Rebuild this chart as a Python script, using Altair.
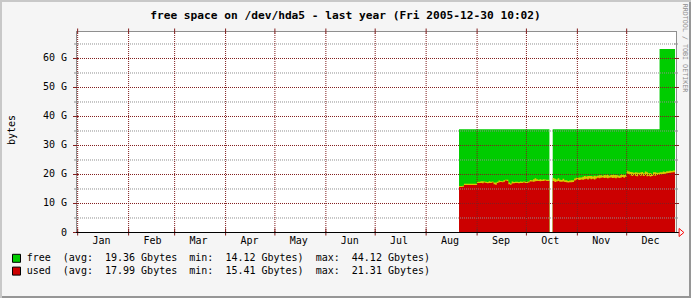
import altair as alt
import pandas as pd

FONT = "DejaVu Sans Mono"
TITLE = "free space on /dev/hda5 - last year (Fri 2005-12-30 10:02)"
Y_TITLE = "bytes"
WATERMARK = "RRDTOOL / TOBI OETIKER"

GREEN = "#00CC00"
RED = "#CC0000"
YELLOW = "#D4CC00"
MGRID = "#821E1E"
GRID = "#8F8F8F"

MONTH_NAMES = ["Jan", "Feb", "Mar", "Apr", "May", "Jun",
               "Jul", "Aug", "Sep", "Oct", "Nov", "Dec"]
MONTH_STARTS = [f"2005-{m:02d}-01T00:00:00Z" for m in range(1, 13)]
MONTH_MIDS = [f"2005-{m:02d}-15T12:00:00Z" for m in range(1, 13)]

Y_MAJOR = [0, 10, 20, 30, 40, 50, 60]
Y_LABELS = ["0", "10 G", "20 G", "30 G", "40 G", "50 G", "60 G"]
Y_MINOR = [5, 15, 25, 35, 45, 55, 65]
Y_TOP = 69.31

X_START = "2004-12-31T00:00:00Z"
X_END = "2005-12-31T00:00:00Z"
DATA_START = "2005-08-21"
DATA_END = "2005-12-30T10:02:00Z"

# daily 'used' (Gbytes), Aug 21 .. Dec 30 (None = no data)
used = [
    # Aug 21-31
    15.7, 15.7, 15.8, 16.4, 16.4, 16.4, 16.4, 16.4, 16.4, 16.4, 16.4,
    # Sep
    17.1, 17.1, 17.1, 17.0, 17.2, 17.1, 17.0, 17.1, 17.1, 17.2,
    16.6, 16.5, 17.1, 17.3, 17.4, 17.3, 17.5, 17.9, 17.8, 16.6,
    16.5, 16.9, 17.0, 17.1, 17.1, 17.0, 17.1, 17.1, 17.2, 17.1,
    # Oct
    17.1, 17.2, 17.6, 17.6, 17.5, 17.7, 17.8, 17.8, 17.7, 17.8,
    17.8, 17.9, 17.8, 17.8, None, None, 17.8, 17.4, 17.6, 17.8,
    17.5, 17.5, 17.6, 17.4, 17.3, 17.2, 17.3, 17.3, 17.4, 17.9, 18.2,
    # Nov
    18.2, 18.1, 18.3, 18.2, 18.4, 18.5, 18.3, 18.6, 18.4, 18.5,
    18.3, 18.6, 18.9, 18.7, 18.9, 19.0, 18.8, 18.9, 18.7, 18.9,
    19.0, 18.8, 18.9, 18.7, 19.0, 18.8, 18.9, 19.1, 18.9, 19.2,
    # Dec 1-30
    20.3, 20.1, 19.7, 19.5, 19.8, 19.6, 19.4, 19.9, 19.6, 19.7,
    19.5, 19.8, 19.4, 19.6, 19.3, 19.5, 19.7, 19.6, 19.8, 19.9,
    20.0, 20.1, 20.2, 20.3, 20.4, 20.5, 20.6, 20.7, 20.8, 20.8,
]

# daily peak above the average 'used' (Gbytes), same days
spike = [
    0.3, 0.3, 0.3, 0.4, 0.4, 0.4, 0.4, 0.4, 0.4, 0.4, 0.4,
    0.4, 0.4, 0.6, 0.7, 0.4, 0.4, 0.4, 0.6, 0.4, 0.4,
    0.6, 0.7, 0.4, 0.6, 0.4, 0.4, 0.5, 0.3, 0.4, 0.6,
    0.4, 0.7, 0.4, 0.4, 0.4, 0.4, 0.5, 0.4, 0.4, 0.4,
    0.4, 0.4, 0.5, 0.4, 0.9, 1.0, 0.6, 0.4, 0.7, 0.4,
    0.6, 0.4, 0.4, 0.4, None, None, 1.0, 1.1, 0.7, 0.9,
    0.7, 0.6, 0.9, 0.6, 0.7, 0.6, 0.6, 0.7, 0.6, 0.7, 0.7,
    0.7, 0.9, 0.7, 1.0, 1.1, 0.8, 1.2, 0.9, 1.1, 0.8,
    1.3, 0.8, 0.7, 1.0, 0.8, 0.6, 1.1, 0.8, 1.2, 0.7,
    0.8, 1.2, 0.9, 1.1, 0.7, 0.8, 1.2, 0.7, 1.1, 0.7,
    1.0, 0.9, 1.2, 1.3, 0.8, 1.2, 1.3, 0.7, 1.1, 1.2,
    0.9, 1.2, 1.4, 0.8, 1.2, 0.7, 1.1, 1.2, 0.8, 0.7,
    0.8, 0.7, 0.8, 0.6, 0.7, 0.6, 0.7, 0.5, 0.6, 0.6,
]

# total size (used + free), Gbytes: 35.6 until Dec 20, 63.3 from Dec 21
total = [35.6] * 122 + [63.3] * 10

legend_names = ["free", "used"]
legend_colors = [GREEN, RED]
legend_avg = [19.36, 17.99]
legend_min = [14.12, 15.41]
legend_max = [44.12, 21.31]


def ms(s):
    return int(pd.Timestamp(s).value // 10**6)


days = pd.date_range(start=DATA_START, periods=len(used), freq="D", tz="UTC")

rows = []
seg = 0
prev_ok = False
for i, d in enumerate(days):
    t = d.strftime("%Y-%m-%dT%H:%M:%SZ")
    if used[i] is None:
        if prev_ok:
            rows.append(dict(t=t, used=used[i - 1], peak=used[i - 1] + spike[i - 1],
                             total=total[i - 1], seg=seg))
            seg += 1
        prev_ok = False
        continue
    rows.append(dict(t=t, used=used[i], peak=used[i] + spike[i], total=total[i], seg=seg))
    prev_ok = True
rows.append(dict(t=DATA_END, used=used[-1], peak=used[-1] + spike[-1], total=total[-1], seg=seg))
area_df = pd.DataFrame(rows)

W, H = 600, 201
x_scale = alt.Scale(type="utc", domain=[ms(X_START), ms(X_END)])
y_scale = alt.Scale(domain=[0, Y_TOP], range=[H + 0.5, 0.5], nice=False, zero=True)

base = alt.Chart(area_df)
xa = alt.X("t:T", scale=x_scale, axis=None)

green = base.mark_area(interpolate="step-after", color=GREEN).encode(
    x=xa, y=alt.Y("total:Q", scale=y_scale, stack=None, axis=None), detail="seg:N")
yellow = base.mark_area(interpolate="step-after", color=YELLOW).encode(
    x=xa, y=alt.Y("peak:Q", scale=y_scale, stack=None, axis=None), detail="seg:N")
red = base.mark_area(interpolate="step-after", color=RED).encode(
    x=xa, y=alt.Y("used:Q", scale=y_scale, stack=None, axis=None), detail="seg:N")

minor_df = pd.DataFrame({"v": Y_MINOR})
major_df = pd.DataFrame({"v": Y_MAJOR[1:]})
tick_df = pd.DataFrame({"v": Y_MAJOR, "label": Y_LABELS})
month_df = pd.DataFrame({"start": MONTH_STARTS, "mid": MONTH_MIDS, "name": MONTH_NAMES})

yv = alt.Y("v:Q", scale=y_scale, axis=None)
xm = alt.X("start:T", scale=x_scale, axis=None)

minor_grid = alt.Chart(minor_df).mark_rule(color=GRID, strokeDash=[1, 1], strokeWidth=1).encode(
    y=yv, x=alt.value(0), x2=alt.value(W))
major_grid = alt.Chart(major_df).mark_rule(color=MGRID, strokeDash=[1, 1], strokeWidth=1).encode(
    y=yv, x=alt.value(0), x2=alt.value(W))
month_grid = alt.Chart(month_df).mark_rule(color=MGRID, strokeDash=[1, 1], strokeWidth=1).encode(
    x=xm, y=alt.value(0), y2=alt.value(H))

minor_tick_l = alt.Chart(minor_df).mark_rule(color=GRID).encode(
    y=yv, x=alt.value(-2), x2=alt.value(2))
minor_tick_r = alt.Chart(minor_df).mark_rule(color=GRID).encode(
    y=yv, x=alt.value(W - 2), x2=alt.value(W + 2))
major_tick_l = alt.Chart(tick_df).mark_rule(color=MGRID).encode(
    y=yv, x=alt.value(-3), x2=alt.value(2))
major_tick_r = alt.Chart(major_df).mark_rule(color=MGRID).encode(
    y=yv, x=alt.value(W - 2), x2=alt.value(W + 3))
month_tick = alt.Chart(month_df).mark_rule(color=MGRID).encode(
    x=xm, y=alt.value(H - 3.5), y2=alt.value(H + 3.5))
month_tick_top = alt.Chart(month_df).mark_rule(color=MGRID).encode(
    x=xm, y=alt.value(-2.5), y2=alt.value(2.5))

y_labels = alt.Chart(tick_df).mark_text(
    font=FONT, fontSize=10, color="#000000", align="right", baseline="middle").encode(
    y=yv, x=alt.value(-9), text="label:N")

one = pd.DataFrame({"k": [0]})
frame_top = alt.Chart(one).mark_rule(color=GRID).encode(
    x=alt.value(0), x2=alt.value(W + 0.5), y=alt.value(0.5))
frame_right = alt.Chart(one).mark_rule(color=GRID).encode(
    x=alt.value(W + 0.5), y=alt.value(0), y2=alt.value(H))
frame_left = alt.Chart(one).mark_rule(color=GRID).encode(
    x=alt.value(0.5), y=alt.value(0), y2=alt.value(H + 1))
x_axis_line = alt.Chart(one).mark_rule(color="#000000").encode(
    x=alt.value(0), x2=alt.value(W + 3), y=alt.value(H + 0.5))
arrow = alt.Chart(one).mark_point(
    shape="M-0.6,-1L0.6,0L-0.6,1Z", filled=False, color="#FF0000", size=64,
    strokeWidth=1, opacity=1).encode(x=alt.value(W + 5.5), y=alt.value(H + 0.5))

month_labels = alt.Chart(month_df).mark_text(
    font=FONT, fontSize=10, color="#000000", align="center", baseline="middle").encode(
    x=alt.X("mid:T", scale=x_scale, axis=None), y=alt.value(H + 8.5), text="name:N")

# decorations outside the plot
title_df = pd.DataFrame({"text": [TITLE]})
title = alt.Chart(title_df).mark_text(
    font=FONT, fontSize=11.2, fontWeight="bold", color="#000000",
    align="center", baseline="alphabetic").encode(
    x=alt.value(345.5 - 76), y=alt.value(18.5 - 31), text="text:N")

ytitle_df = pd.DataFrame({"text": [Y_TITLE]})
ytitle = alt.Chart(ytitle_df).mark_text(
    font=FONT, fontSize=10, color="#000000", align="center", baseline="middle", angle=270).encode(
    x=alt.value(12 - 76), y=alt.value(130 - 31), text="text:N")

wm_df = pd.DataFrame({"text": [WATERMARK]})
watermark = alt.Chart(wm_df).mark_text(
    font=FONT, fontSize=6.7, color="#8C8C8C", align="center", baseline="middle", angle=90).encode(
    x=alt.value(685 - 76), y=alt.value(48 - 31), text="text:N")

NB = "\u00a0"
legend_layers = []
for i, (nm, col, a, mn, mx) in enumerate(zip(legend_names, legend_colors,
                                              legend_avg, legend_min, legend_max)):
    s = f"{nm}  (avg:  {a:5.2f} Gbytes  min:  {mn:5.2f} Gbytes)  max:  {mx:5.2f} Gbytes)"
    s = s.replace(" ", NB)
    ldf = pd.DataFrame({"text": [s]})
    yc = 258.3 + i * 12.8 - 31
    box = alt.Chart(ldf).mark_rect(color=col, stroke="#000000", strokeWidth=1).encode(
        x=alt.value(12.5 - 76), x2=alt.value(20.5 - 76),
        y=alt.value(yc - 4), y2=alt.value(yc + 4))
    txt = alt.Chart(ldf).mark_text(
        font=FONT, fontSize=10, color="#000000", align="left", baseline="middle").encode(
        x=alt.value(26.7 - 76), y=alt.value(yc), text="text:N")
    legend_layers += [box, txt]

# 3D frame of the whole image
shade_a = "#C8C8C8"
shade_b = "#969696"
sh_top = alt.Chart(one).mark_rect(color=shade_a).encode(
    x=alt.value(-76), x2=alt.value(615), y=alt.value(-31), y2=alt.value(-29))
sh_left = alt.Chart(one).mark_rect(color=shade_a).encode(
    x=alt.value(-76), x2=alt.value(-74), y=alt.value(-31), y2=alt.value(267))
sh_bottom = alt.Chart(one).mark_rect(color=shade_b).encode(
    x=alt.value(-74), x2=alt.value(615), y=alt.value(265), y2=alt.value(267))
sh_right = alt.Chart(one).mark_rect(color=shade_b).encode(
    x=alt.value(613), x2=alt.value(615), y=alt.value(-29), y2=alt.value(267))

chart = alt.layer(
    green, yellow, red,
    minor_grid, major_grid, month_grid,
    frame_top, frame_right, frame_left,
    minor_tick_l, minor_tick_r, major_tick_l, major_tick_r, month_tick, month_tick_top,
    x_axis_line, arrow, month_labels, y_labels,
    title, ytitle, watermark, *legend_layers,
    sh_top, sh_left, sh_bottom, sh_right,
).properties(
    width=W, height=H,
    padding={"left": 76, "top": 31, "right": 15, "bottom": 66},
    autosize=alt.AutoSizeParams(type="none"),
).configure(background="#F5F5F5").configure_view(fill="#FFFFFF", strokeWidth=0)

chart.save("out.html", embed_options={"renderer": "svg", "actions": False})
